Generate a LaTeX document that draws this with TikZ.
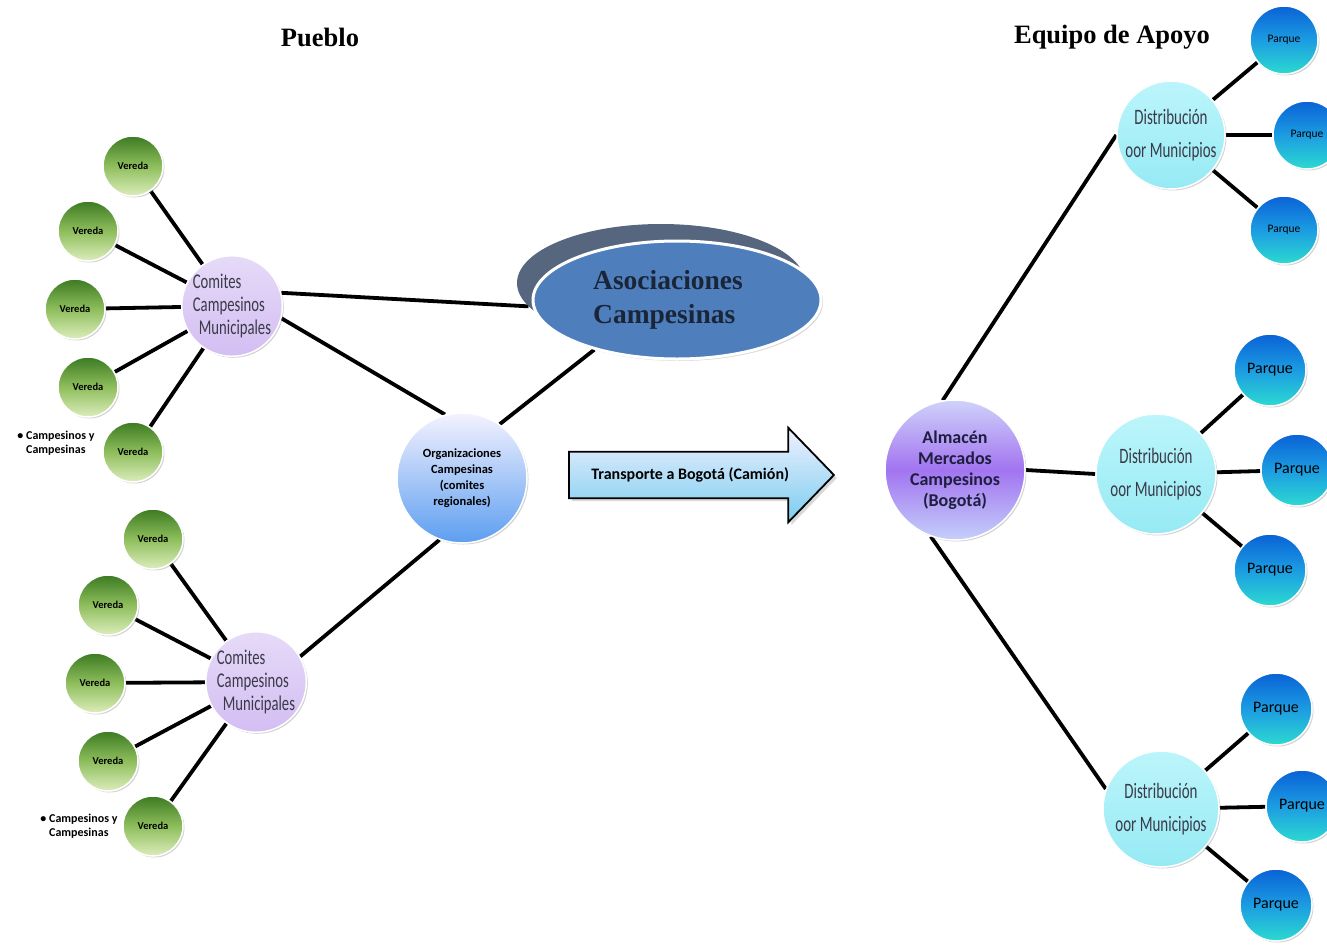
\documentclass[tikz,border=0pt]{standalone}
\usepackage{graphicx}
\usepackage{fontspec}
\setmainfont{Liberation Serif}
\newfontfamily\calf{Carlito}
\usetikzlibrary{shapes.arrows,shapes.geometric,shadows,backgrounds}
\definecolor{verD}{HTML}{3C7A22}
\definecolor{verM}{HTML}{8EBE5C}
\definecolor{verL}{HTML}{DCEDBC}
\definecolor{comF}{HTML}{D3BEF2}
\definecolor{comL}{HTML}{E6DAF8}
\definecolor{orgT}{HTML}{F4F2FF}
\definecolor{orgB}{HTML}{5C9EF0}
\definecolor{almT}{HTML}{CFD2FA}
\definecolor{almM}{HTML}{A274F0}
\definecolor{almB}{HTML}{C4D0FA}
\definecolor{disT}{HTML}{BCF5FB}
\definecolor{disB}{HTML}{96EAF4}
\definecolor{parT}{HTML}{0A62D6}
\definecolor{parM}{HTML}{1C9CE2}
\definecolor{parB}{HTML}{2CDAD0}
\definecolor{asoF}{HTML}{4F7EBD}
\definecolor{asoS}{HTML}{56667E}
\definecolor{asoTx}{HTML}{1A2638}
\definecolor{txG}{HTML}{3A3A48}
\definecolor{txN}{HTML}{1E1E40}
\definecolor{arT}{HTML}{F0F0FF}
\definecolor{arB}{HTML}{7ACDEF}
\newcommand{\cnd}[2][0.7]{\scalebox{#1}[1]{#2}}
\tikzset{
  ball/.style={circle, draw=white, line width=1.5pt, inner sep=0pt, align=center,
    drop shadow={opacity=0.35, shadow xshift=1.5pt, shadow yshift=-1.5pt}},
  vereda/.style={ball, minimum size=60pt, top color=verD, bottom color=verL, middle color=verM,
    font=\calf\bfseries\fontsize{10.5}{11}\selectfont},
  comite/.style={ball, minimum size=98pt, top color=comL, bottom color=comF,
    font=\calf\fontsize{21}{27}\selectfont, text=txG, align=left},
  parque/.style={ball, minimum size=72pt, top color=parT, bottom color=parB, middle color=parM,
    font=\calf\fontsize{16}{17}\selectfont, text=black},
  parquesm/.style={parque, minimum size=68pt, font=\calf\fontsize{11.5}{12}\selectfont},
  distrib/.style={ball, minimum size=116pt, top color=disT, bottom color=disB,
    font=\calf\fontsize{22}{33}\selectfont, text=txG},
  conn/.style={line width=3.8pt, black},
  title/.style={font=\bfseries\fontsize{26.5}{30}\selectfont, text=black},
  bullet/.style={font=\calf\bfseries\fontsize{12}{14}\selectfont, align=left, inner sep=0pt}
}
\begin{document}
\begin{tikzpicture}[x=1pt,y=-1pt]
\useasboundingbox (0,0) rectangle (1327,945);
% titles
\node[title] (tpueblo) at (320,37) {Pueblo};
\node[title] (tequipo) at (1112,37) {Equipo de Apoyo};
% Asociaciones
\node[ellipse, fill=asoS, minimum width=288pt, minimum height=118pt] (asocb) at (661,283) {};
\node[ellipse, fill=asoF, draw=white, line width=3pt, minimum width=288pt, minimum height=118pt,
  drop shadow={opacity=0.3, shadow xshift=2pt, shadow yshift=-2pt},
  font=\bfseries\fontsize{27.5}{34}\selectfont, text=asoTx, align=left, inner sep=0pt] (asoc) at (677,300)
  {\hspace*{-18pt}Asociaciones\\\hspace*{-18pt}Campesinas};
% left top group
\node[comite] (c1) at (232,306) {\cnd{Comites}\\[-4pt]\cnd{Campesinos}\\[-4pt]\hspace*{6pt}\cnd{Municipales}};
\node[vereda] (v1) at (133,166) {Vereda};
\node[vereda] (v2) at (88,231) {Vereda};
\node[vereda] (v3) at (75,309) {Vereda};
\node[vereda] (v4) at (88,387) {Vereda};
\node[vereda] (v5) at (133,452) {Vereda};
\node[bullet] (bul1) at (56,443) {\textbullet\ Campesinos y\\\hphantom{\textbullet\ }Campesinas};
% left bottom group
\node[comite, minimum size=94pt] (c2) at (256,682) {\cnd{Comites}\\[-4pt]\cnd{Campesinos}\\[-4pt]\hspace*{6pt}\cnd{Municipales}};
\node[vereda] (w1) at (153,539) {Vereda};
\node[vereda] (w2) at (108,605) {Vereda};
\node[vereda] (w3) at (95,683) {Vereda};
\node[vereda] (w4) at (108,761) {Vereda};
\node[vereda] (w5) at (153,826) {Vereda};
\node[bullet] (bul2) at (79,826) {\textbullet\ Campesinos y\\\hphantom{\textbullet\ }Campesinas};
% organizaciones
\node[ball, minimum size=130pt, top color=orgT, bottom color=orgB,
  font=\calf\bfseries\fontsize{12.5}{16}\selectfont] (org) at (462,478)
  {Organizaciones\\Campesinas\\(comites\\regionales)};
% arrow
\node[single arrow, draw=black, line width=1.8pt, top color=arT, bottom color=arB,
  minimum height=265pt, single arrow head extend=24pt,
  single arrow tip angle=92, inner xsep=2pt, inner ysep=15pt, anchor=west,
  drop shadow={opacity=0.3, shadow xshift=3pt, shadow yshift=-3pt},
  font=\calf\bfseries\fontsize{16}{18}\selectfont] (arrow) at (568,475)
  {Transporte a Bogotá (Camión)};
% almacen
\node[ball, minimum size=140pt, top color=almT, bottom color=almB, middle color=almM,
  font=\calf\bfseries\fontsize{18}{21}\selectfont, text=txN] (alm) at (955,470)
  {Almacén\\Mercados\\Campesinos\\(Bogotá)};
% distribution nodes
\node[distrib, minimum size=108pt] (d1) at (1171,135) {\cnd[0.68]{Distribución}\\\cnd[0.68]{oor Municipios}};
\node[distrib, minimum size=120pt] (d2) at (1156,474) {\cnd[0.68]{Distribución}\\\cnd[0.68]{oor Municipios}};
\node[distrib] (d3) at (1161,809) {\cnd[0.68]{Distribución}\\\cnd[0.68]{oor Municipios}};
% parques
\node[parquesm] (p1) at (1284,40) {Parque};
\node[parquesm] (p2) at (1307,135) {Parque};
\node[parquesm] (p3) at (1284,230) {Parque};
\node[parque] (p4) at (1270,370) {Parque};
\node[parque] (p5) at (1297,470) {Parque};
\node[parque] (p6) at (1270,570) {Parque};
\node[parque] (p7) at (1276,709) {Parque};
\node[parque] (p8) at (1302,806) {Parque};
\node[parque] (p9) at (1276,905) {Parque};
% connectors
\begin{scope}[on background layer]
\foreach \v in {v1,v2,v3,v4,v5} \draw[conn] (\v) -- (c1);
\foreach \v in {w1,w2,w3,w4,w5} \draw[conn] (\v) -- (c2);
\draw[conn] (c1.15) -- (asocb.190);
\draw[conn] (c1.-14) -- (org.105);
\draw[conn] (c2.30) -- (org.250);
\draw[conn] (org.55) -- (asoc.211);
\draw[conn] (alm.100) -- (d1.180);
\draw[conn] (alm.east) -- (d2.west);
\draw[conn] (alm.250) -- (d3.160);
\foreach \p in {p1,p2,p3} \draw[conn] (d1) -- (\p);
\foreach \p in {p4,p5,p6} \draw[conn] (d2) -- (\p);
\foreach \p in {p7,p8,p9} \draw[conn] (d3) -- (\p);
\end{scope}
\end{tikzpicture}
\end{document}
